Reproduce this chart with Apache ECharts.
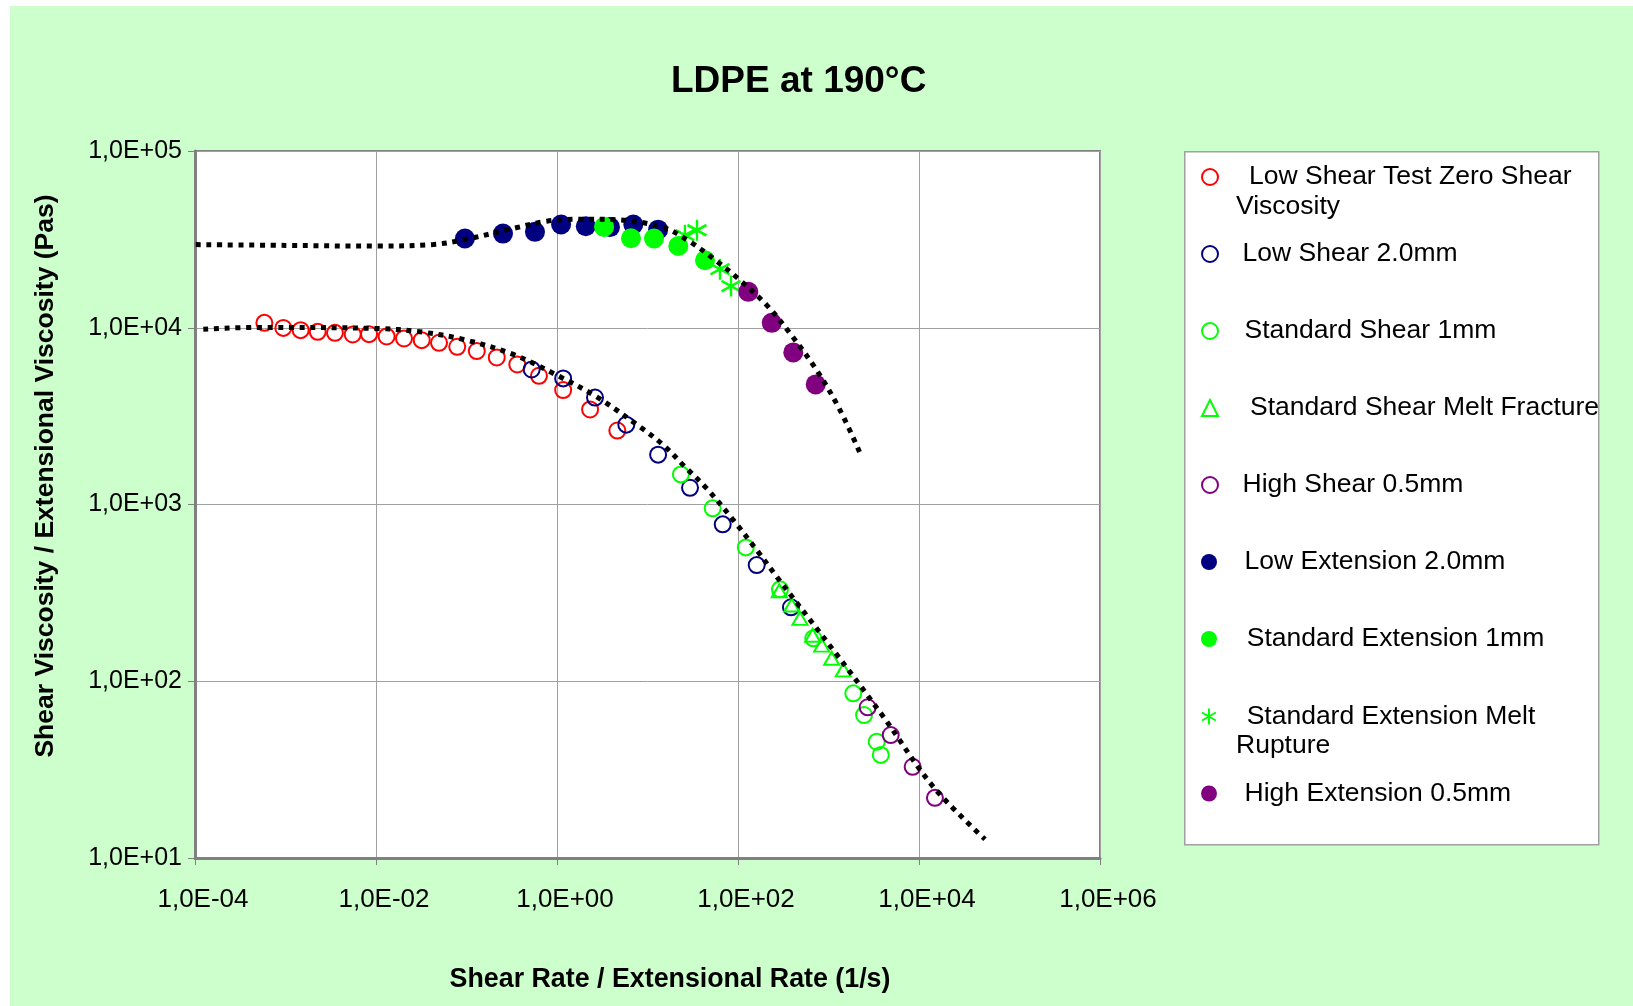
<!DOCTYPE html>
<html><head><meta charset="utf-8">
<script src="https://cdn.jsdelivr.net/npm/echarts@6/dist/echarts.min.js"></script>
<style>
html,body{margin:0;padding:0;background:#ffffff;width:1633px;height:1006px;overflow:hidden}
#c{position:absolute;left:10px;top:6px;width:1623px;height:1000px}
</style></head>
<body><div id="c"></div>
<script>
// ---------------- data ----------------
const seriesNames = [
  'Low Shear Test Zero Shear Viscosity',
  'Low Shear 2.0mm',
  'Standard Shear 1mm',
  'Standard Shear Melt Fracture',
  'High Shear 0.5mm',
  'Low Extension 2.0mm',
  'Standard Extension 1mm',
  'Standard Extension Melt Rupture',
  'High Extension 0.5mm'
];
const legendFirstLines = [
  'Low Shear Test Zero Shear', 'Low Shear 2.0mm', 'Standard Shear 1mm',
  'Standard Shear Melt Fracture', 'High Shear 0.5mm', 'Low Extension 2.0mm',
  'Standard Extension 1mm', 'Standard Extension Melt', 'High Extension 0.5mm'
];
const legendSecondLines = ['Viscosity', 'Rupture'];

const lowShearZeroX = [5.84e-4, 9.46e-4, 1.47e-3, 2.27e-3, 3.52e-3, 5.53e-3, 8.38e-3, 1.31e-2, 2.04e-2, 3.2e-2, 4.97e-2, 7.9e-2, 0.130, 0.216, 0.364, 0.632, 1.17, 2.32, 4.64];
const lowShearZeroY = [10660, 9980, 9690, 9480, 9360, 9160, 9200, 8930, 8700, 8510, 8220, 7800, 7380, 6790, 6200, 5350, 4440, 3450, 2620];

const lowShearX = [0.525, 1.17, 2.63, 5.83, 13.1, 29.5, 67.8, 161, 385];
const lowShearY = [5810, 5170, 4030, 2830, 1915, 1243, 772, 454, 262];

const stdShearX = [23.4, 52.5, 122, 291, 679, 1880, 2470, 3410, 3780];
const stdShearY = [1480, 951, 572, 331, 175, 85.4, 64.4, 45.5, 38.3];

const stdShearMFX = [286, 392, 484, 668, 841, 1084, 1457];
const stdShearMFY = [325, 270, 227, 182, 160, 135, 116];

const highShearX = [2710, 4870, 8510, 15000];
const highShearY = [71.2, 49.6, 32.8, 21.9];

const lowExtX = [0.0961, 0.253, 0.571, 1.11, 2.08, 3.85, 6.97, 13.1];
const lowExtY = [32000, 34100, 34900, 38400, 37500, 37100, 38400, 35900];

const stdExtX = [3.31, 6.57, 11.8, 21.9, 43.2];
const stdExtY = [37200, 32100, 32000, 29000, 24100];

const stdExtMRX = [25.9, 35.2, 63.2, 83.7];
const stdExtMRY = [33400, 35600, 21450, 17200];

const highExtX = [130, 236, 408, 722];
const highExtY = [15960, 10660, 7250, 4780];

// dotted fit curves
const fitExtX = [7.76e-5, 1e-3, 1e-2, 0.0430, 0.0962, 0.329, 0.769, 1.795, 4.19, 14.96, 29.5, 53.3, 105.2, 207.5, 375.8, 741, 1340, 2328];
const fitExtY = [29580, 29240, 28970, 29580, 31550, 36480, 40090, 41110, 40930, 36900, 30620, 24660, 18580, 13430, 9290, 5750, 3420, 1862];

const fitShearX = [1.236e-4, 4.81e-4, 0.01, 0.0306, 0.0923, 0.329, 0.993, 2.748, 8.26, 14.96, 25.94, 45.08, 88.7, 161.1, 267.9, 1130, 4036, 14390, 53580];
const fitShearY = [9817, 10046, 9908, 9484, 8590, 7063, 5395, 4064, 2748, 2168, 1633, 1233, 816.6, 552.1, 389.9, 150.0, 62.95, 25.29, 12.76];

const xTickMin = 1e-4, xTickMax = 1e6;
const yTickMin = 1e1, yTickMax = 1e5;

// ---------------- chart ----------------
const FONT = '"Liberation Sans", Arial, sans-serif';
const pair = (xs, ys) => xs.map((x, i) => [x, ys[i]]);
const expFmt = v => {
  const e = Math.round(Math.log10(v));
  return '1,0E' + (e < 0 ? '-' : '+') + String(Math.abs(e)).padStart(2, '0');
};
const ASTER = 'path://M10 0L10 20M1.34 5L18.66 15M1.34 15L18.66 5';

const pointDefs = [
  {x: lowShearZeroX, y: lowShearZeroY, symbol: 'circle', size: 16, color: '#FF0000', open: true},
  {x: lowShearX, y: lowShearY, symbol: 'circle', size: 16, color: '#000080', open: true},
  {x: stdShearX, y: stdShearY, symbol: 'circle', size: 16, color: '#00FF00', open: true},
  {x: stdShearMFX, y: stdShearMFY, symbol: 'triangle', size: [15, 13], color: '#00FF00', open: true},
  {x: highShearX, y: highShearY, symbol: 'circle', size: 16, color: '#800080', open: true},
  {x: lowExtX, y: lowExtY, symbol: 'circle', size: 20, color: '#000080', open: false},
  {x: stdExtX, y: stdExtY, symbol: 'circle', size: 20, color: '#00FF00', open: false},
  {x: stdExtMRX, y: stdExtMRY, symbol: ASTER, size: [19, 21], color: '#00FF00', open: true},
  {x: highExtX, y: highExtY, symbol: 'circle', size: 20, color: '#800080', open: false}
];

const series = pointDefs.map((d, i) => ({
  type: 'scatter',
  name: seriesNames[i],
  data: pair(d.x, d.y),
  symbol: d.symbol,
  symbolSize: d.size,
  itemStyle: d.open
    ? {color: 'transparent', borderColor: d.color, borderWidth: d.symbol === ASTER ? 2.5 : 2, opacity: 1}
    : {color: d.color, opacity: 1},
  z: 2,
  silent: true
}));
[[fitExtX, fitExtY, 'Fit extension'], [fitShearX, fitShearY, 'Fit shear']].forEach(([xs, ys, nm]) => {
  series.push({
    type: 'line', name: nm, data: pair(xs, ys), symbol: 'none', smooth: 0.35, clip: false,
    lineStyle: {color: '#000', width: 5, type: [5, 5.7], cap: 'butt'}, z: 5, silent: true
  });
});

// legend layout (chart coords)
const legendCY = [165.5, 242.5, 319.5, 396.5, 473.5, 550.5, 627.5, 705, 782];
const legendPad = [26, 19.5, 21.5, 27, 19.5, 22.6, 24.7, 24.7, 22.6];
const legends = seriesNames.map((nm, i) => ({
  data: [nm],
  left: 1191, top: legendCY[i] - 8,
  padding: 0, itemWidth: 16, itemHeight: 16, selectedMode: false,
  formatter: () => legendFirstLines[i],
  textStyle: {fontSize: 26.5, fontFamily: FONT, color: '#000', padding: [0, 0, 0, legendPad[i]]}
}));

const option = {
  backgroundColor: '#CCFFCC',
  animation: false,
  title: {
    text: 'LDPE at 190°C', left: 661, top: 57, padding: 0,
    textStyle: {fontSize: 37, fontWeight: 'bold', fontFamily: FONT, color: '#000'}
  },
  legend: legends,
  grid: {left: 185, right: 533, top: 145, bottom: 148, show: true, backgroundColor: '#FFFFFF', borderColor: '#808080', borderWidth: 2},
  xAxis: {
    type: 'log', logBase: 10, min: xTickMin, max: xTickMax, interval: 2,
    name: 'Shear Rate / Extensional Rate (1/s)', nameLocation: 'middle', nameGap: 108,
    nameTextStyle: {fontSize: 26.8, fontWeight: 'bold', fontFamily: FONT, color: '#000', padding: [0, 0, 0, 45]},
    axisLine: {show: true, lineStyle: {color: '#808080', width: 3}},
    axisTick: {show: true, length: 7, lineStyle: {color: '#808080', width: 1}},
    axisLabel: {formatter: expFmt, fontSize: 26, fontFamily: FONT, color: '#000', margin: 29, padding: [0, 0, 0, 16]},
    splitLine: {show: true, lineStyle: {color: '#A0A0A0', width: 1}}
  },
  yAxis: {
    type: 'log', logBase: 10, min: yTickMin, max: yTickMax, interval: 1,
    name: 'Shear Viscosity / Extensional Viscosity (Pas)', nameLocation: 'middle', nameGap: 136,
    nameTextStyle: {fontSize: 26.5, fontWeight: 'bold', fontFamily: FONT, color: '#000', padding: [0, 0, 0, 57]},
    axisLine: {show: true, lineStyle: {color: '#808080', width: 3}},
    axisTick: {show: true, length: 7, lineStyle: {color: '#808080', width: 1}},
    axisLabel: {formatter: expFmt, fontSize: 25, fontFamily: FONT, color: '#000', margin: 13, padding: [7, 0, 0, 0]},
    splitLine: {show: true, lineStyle: {color: '#A0A0A0', width: 1}}
  },
  graphic: [
    {type: 'rect', left: 1174, top: 145, z: -1, shape: {width: 414, height: 693},
     style: {fill: '#FFFFFF', stroke: '#A0A0A0', lineWidth: 1.5}},
    {type: 'text', left: 1226, top: 199 - 12, z: 10,
     style: {text: legendSecondLines[0], font: '26.5px ' + FONT, fill: '#000'}},
    {type: 'text', left: 1226, top: 739 - 13, z: 10,
     style: {text: legendSecondLines[1], font: '26.5px ' + FONT, fill: '#000'}}
  ],
  series: series
};
const chart = echarts.init(document.getElementById('c'));
chart.setOption(option);
</script></body></html>
